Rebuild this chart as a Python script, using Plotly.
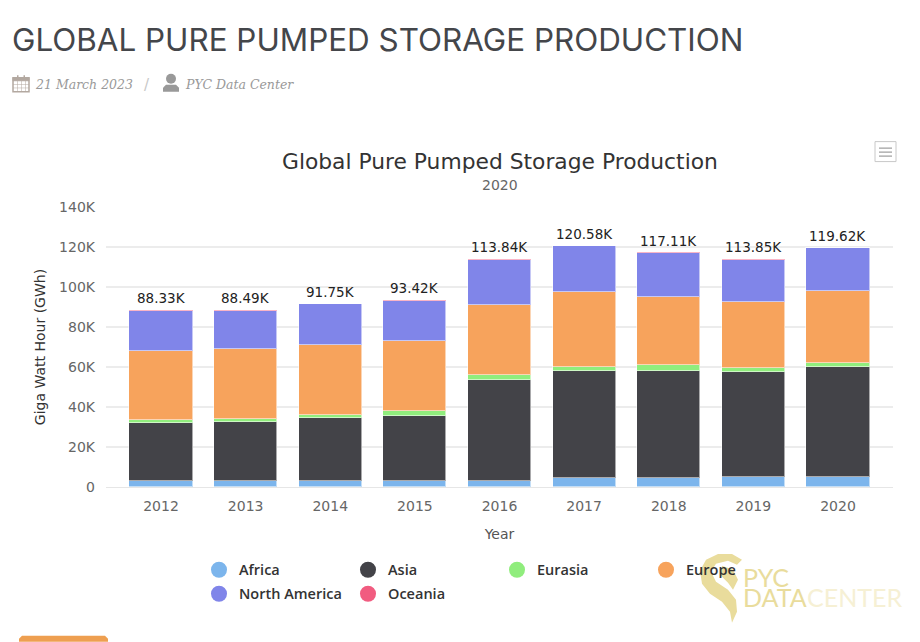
import plotly.graph_objects as go

years = [2012, 2013, 2014, 2015, 2016, 2017, 2018, 2019, 2020]
africa = [3.0, 3.0, 3.0, 3.0, 3.2, 4.5, 4.5, 5.0, 5.0]
asia = [29.0, 29.5, 31.5, 32.7, 50.4, 53.5, 53.5, 52.5, 55.0]
eurasia = [1.5, 1.5, 1.7, 2.3, 2.4, 2.0, 3.0, 2.0, 1.8]
europe = [34.5, 34.8, 34.8, 35.0, 35.0, 37.6, 34.0, 33.0, 36.2]
north_america = [20.0, 19.4, 20.5, 20.1, 22.5, 22.7, 22.0, 21.0, 21.3]
oceania = [0.33, 0.29, 0.25, 0.32, 0.34, 0.28, 0.31, 0.35, 0.32]
totals = [88.33, 88.49, 91.75, 93.42, 113.84, 120.58, 117.11, 113.85, 119.62]
y_ticks = [0, 20, 40, 60, 80, 100, 120, 140]
y_tick_labels = ["0", "20K", "40K", "60K", "80K", "100K", "120K", "140K"]

series = [
    ("Africa", africa, "#7cb5ec", "legend"),
    ("Asia", asia, "#434348", "legend"),
    ("Eurasia", eurasia, "#90ed7d", "legend"),
    ("Europe", europe, "#f7a35c", "legend"),
    ("North America", north_america, "#8085e9", "legend2"),
    ("Oceania", oceania, "#f15c80", "legend2"),
]

W, H = 920, 642
L, R, T, B = 106, 893, 206.5, 487
def px(x): return (x - L) / (R - L)
def py(y): return (B - y) / (B - T)

fig = go.Figure()
for name, vals, color, _ in series:
    fig.add_bar(x=years, y=vals, name=name, width=0.745, showlegend=False,
                marker=dict(color=color, line=dict(color="rgba(255,255,255,0.55)", width=1)))
for name, _, color, lg in series:
    fig.add_scatter(x=[None], y=[None], mode="markers", name=name, legend=lg,
                    marker=dict(symbol="circle", size=16, color=color))

legend_common = dict(orientation="h", xref="paper", yref="paper", xanchor="left", yanchor="middle",
                     entrywidth=104, entrywidthmode="pixels", itemsizing="trace",
                     itemclick=False, itemdoubleclick=False, traceorder="normal",
                     bgcolor="rgba(0,0,0,0)",
                     font=dict(family="Open Sans", size=14.5, color="#333333", weight=600))

annotations = [
    dict(text="GLOBAL PURE PUMPED STORAGE PRODUCTION", x=px(10), y=py(39), size=31.4, fam="Inter", col="#44464a", anchor="left"),
    dict(text="<i>21 March 2023</i>", x=px(33), y=py(84), size=12.5, fam="DejaVu Serif", col="#999999", anchor="left"),
    dict(text="/", x=px(142), y=py(84), size=15, fam="DejaVu Sans", col="#c8c8c8", anchor="left"),
    dict(text="<i>PYC Data Center</i>", x=px(183), y=py(84), size=12.5, fam="DejaVu Serif", col="#999999", anchor="left"),
    dict(text="Global Pure Pumped Storage Production", x=px(499.5), y=py(160.5), size=21.8, fam="DejaVu Sans", col="#333333", anchor="center"),
    dict(text="2020", x=px(499.5), y=py(184.5), size=14, fam="DejaVu Sans", col="#666666", anchor="center"),
    dict(text="PYC", x=px(741), y=py(577), size=25, fam="Lato", col="#e9dc9c", anchor="left"),
    dict(text="DATA", x=px(741), y=py(597.5), size=25, fam="Lato", col="#e9dc9c", anchor="left"),
    dict(text="CENTER", x=px(805), y=py(597.5), size=25, fam="Lato", col="#f6f0d4", anchor="left"),
]
ann = [dict(text=a["text"], x=a["x"], y=a["y"], xref="paper", yref="paper", showarrow=False,
            xanchor=a["anchor"], yanchor="middle",
            font=dict(size=a["size"], family=a["fam"], color=a["col"]))
       for a in annotations]
for yr, total in zip(years, totals):
    ann.append(dict(text=f"{total:.2f}K", x=yr, y=total, xref="x", yref="y", showarrow=False,
                    xanchor="center", yanchor="bottom", yshift=2,
                    font=dict(family="DejaVu Sans", size=13.5, color="#222222")))

def rect(x0, y0, x1, y1, fill=None, line=None, lw=1):
    return dict(type="rect", xref="paper", yref="paper", x0=px(x0), x1=px(x1), y0=py(y0), y1=py(y1),
                fillcolor=fill or "rgba(0,0,0,0)", line=dict(color=line or "rgba(0,0,0,0)", width=lw))
def path(points, fill):
    d = "M " + " L ".join(f"{px(x):.5f} {py(y):.5f}" for x, y in points) + " Z"
    return dict(type="path", xref="paper", yref="paper", path=d, fillcolor=fill, line=dict(width=0), layer="above")

CAL = "#b3a8a0"
shapes = [
    # calendar icon
    rect(13, 77, 29, 91, None, CAL, 1.5),
    rect(13, 77, 29, 80, CAL, CAL, 1),
    rect(17, 74.5, 18.5, 79, CAL), rect(23.5, 74.5, 25, 79, CAL),
    rect(13, 83.5, 29, 84, CAL), rect(13, 87, 29, 87.5, CAL),
    rect(17, 80, 17.5, 91, CAL), rect(21, 80, 21.5, 91, CAL), rect(25, 80, 25.5, 91, CAL),
    # person icon
    dict(type="circle", xref="paper", yref="paper", x0=px(166), x1=px(176), y0=py(83), y1=py(73),
         fillcolor="#999999", line=dict(width=0)),
    path([(163, 91), (163, 87), (166, 84), (176, 84), (179, 87), (179, 91)], "#999999"),
    # menu button
    rect(875, 141, 896, 161, "#ffffff", "#c8c8c8", 1),
    rect(879, 147, 892, 148, "#888888"), rect(879, 151, 892, 152, "#888888"), rect(879, 155, 892, 156, "#888888"),
    # bottom button
    path([(19, 642), (19, 639), (22, 636), (105, 636), (108, 639), (108, 642)], "#ee9f50"),
    # watermark swirl
    path([(742, 560), (732, 554), (718, 554), (706, 560), (700, 571), (702, 584), (710, 594), (722, 602),
          (730, 612), (732, 623), (737, 612), (736, 600), (728, 590), (716, 582), (711, 572), (716, 564),
          (728, 561), (737, 565)], "#e9dc9c"),
    path([(722, 566), (733, 570), (738, 580), (733, 590), (728, 583), (720, 575)], "#e9dc9c"),
]

fig.update_layout(
    width=W, height=H, autosize=False,
    margin=dict(l=L, r=W - R, t=T, b=H - B, autoexpand=False),
    paper_bgcolor="#ffffff", plot_bgcolor="#ffffff", barmode="stack", bargap=0,
    font=dict(family="DejaVu Sans", color="#666666"),
    annotations=ann, shapes=shapes, hovermode=False,
    legend=dict(x=px(199), y=py(570), **legend_common),
    legend2=dict(x=px(199), y=py(594), **legend_common),
    xaxis=dict(range=[2011.35, 2020.65], tickvals=years, ticktext=[str(y) for y in years],
               showgrid=False, zeroline=False, showline=True, linecolor="#e6e6e6", linewidth=1,
               ticks="", tickfont=dict(size=14, color="#666666"), ticklabelstandoff=6,
               title=dict(text="Year", font=dict(size=14, color="#555555"), standoff=16)),
    yaxis=dict(range=[0, 140], tickvals=y_ticks, ticktext=y_tick_labels, showgrid=True,
               gridcolor="#ececec", gridwidth=2, zeroline=False, showline=False, ticks="",
               tickfont=dict(size=14, color="#666666"), ticklabelstandoff=10,
               title=dict(text="Giga Watt Hour (GWh)", font=dict(size=14, color="#333333"), standoff=10)),
)
fig.write_html("out.html", config=dict(displayModeBar=False),
               post_script="document.body.style.margin='0';document.documentElement.style.overflow='hidden';")
